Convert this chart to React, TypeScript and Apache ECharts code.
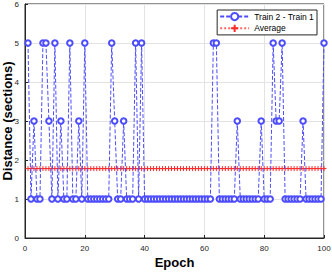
import React, { useEffect, useRef } from "react";
import * as echarts from "echarts";

const epochs = [
  1, 2, 3, 4, 5, 6, 7, 8, 9, 10, 11, 12, 13, 14, 15, 16, 17, 18, 19, 20,
  21, 22, 23, 24, 25, 26, 27, 28, 29, 30, 31, 32, 33, 34, 35, 36, 37, 38, 39, 40,
  41, 42, 43, 44, 45, 46, 47, 48, 49, 50, 51, 52, 53, 54, 55, 56, 57, 58, 59, 60,
  61, 62, 63, 64, 65, 66, 67, 68, 69, 70, 71, 72, 73, 74, 75, 76, 77, 78, 79, 80,
  81, 82, 83, 84, 85, 86, 87, 88, 89, 90, 91, 92, 93, 94, 95, 96, 97, 98, 99, 100,
];

const distance = [
  5, 1, 3, 1, 1, 5, 5, 3, 1, 5, 1, 3, 1, 1, 5, 1, 1, 3, 1, 5,
  1, 1, 1, 1, 1, 1, 1, 1, 5, 3, 1, 1, 3, 1, 1, 1, 5, 1, 5, 1,
  1, 1, 1, 1, 1, 1, 1, 1, 1, 1, 1, 1, 1, 1, 1, 1, 1, 1, 1, 1,
  1, 1, 5, 5, 1, 1, 1, 1, 1, 1, 3, 1, 1, 1, 1, 1, 1, 1, 3, 1,
  1, 1, 5, 3, 3, 5, 1, 1, 1, 1, 1, 1, 3, 1, 1, 1, 1, 1, 1, 5,
];

const averageValue = 1.78;

const xTicks = { min: 0, max: 100, interval: 20 };
const yTicks = { min: 0, max: 6, interval: 1 };

const FONT = "Liberation Sans, Arial, sans-serif";

export default function App() {
  const ref = useRef<HTMLDivElement>(null);
  useEffect(() => {
    if (!ref.current) return;
    const chart = echarts.init(ref.current, undefined, { renderer: "svg" });
    const plus = "path://M0,5 L10,5 M5,0 L5,10";
    chart.setOption({
      animation: false,
      backgroundColor: "#ffffff",
      textStyle: { fontFamily: FONT },
      grid: {
        left: 25,
        right: 8,
        top: 4,
        bottom: 34,
        containLabel: false,
        outerBoundsMode: "none",
        show: true,
        borderColor: "#262626",
        borderWidth: 1,
        backgroundColor: "transparent",
      },
      legend: {
        orient: "vertical",
        right: 15,
        top: 10,
        backgroundColor: "#ffffff",
        borderColor: "#262626",
        borderWidth: 1,
        borderRadius: 0,
        padding: [2, 3, 2, 2],
        itemGap: 2.5,
        itemWidth: 29,
        itemHeight: 9,
        textStyle: { fontSize: 8.5, color: "#000", fontFamily: FONT },
        data: ["Train 2 - Train 1", "Average"],
      },
      xAxis: {
        type: "value",
        min: xTicks.min,
        max: xTicks.max,
        interval: xTicks.interval,
        name: "Epoch",
        nameLocation: "middle",
        nameGap: 18,
        nameMoveOverlap: false,
        nameTextStyle: { fontSize: 13, fontWeight: "bold", color: "#000", fontFamily: FONT },
        axisLine: { show: true, onZero: false, lineStyle: { color: "#262626", width: 1 } },
        axisTick: { show: true, inside: true, length: 3, lineStyle: { color: "#262626" } },
        axisLabel: { fontSize: 8, color: "#262626", margin: 6, fontFamily: FONT },
        splitLine: { show: true, lineStyle: { color: "#e3e3e3", width: 1 } },
      },
      yAxis: {
        type: "value",
        min: yTicks.min,
        max: yTicks.max,
        interval: yTicks.interval,
        name: "Distance (sections)",
        nameLocation: "middle",
        nameGap: 11,
        nameMoveOverlap: false,
        nameTextStyle: { fontSize: 13, fontWeight: "bold", color: "#000", fontFamily: FONT },
        axisLine: { show: true, lineStyle: { color: "#262626", width: 1 } },
        axisTick: { show: true, inside: true, length: 3, lineStyle: { color: "#262626" } },
        axisLabel: { fontSize: 8, color: "#262626", margin: 6, fontFamily: FONT },
        splitLine: { show: true, lineStyle: { color: "#e3e3e3", width: 1 } },
      },
      series: [
        {
          name: "Average",
          type: "line",
          data: epochs.map((e) => [e, averageValue]),
          symbol: plus,
          symbolSize: 5,
          showSymbol: true,
          itemStyle: { color: "#ff2a2a", borderColor: "#ff2a2a", borderWidth: 1 },
          lineStyle: { color: "#ff6666", width: 0.6, type: "dotted" },
          z: 2,
        },
        {
          name: "Train 2 - Train 1",
          type: "line",
          data: epochs.map((e, i) => [e, distance[i]]),
          symbol: "emptyCircle",
          symbolSize: 5.5,
          showSymbol: true,
          itemStyle: { color: "#4d4dff", borderColor: "#4d4dff", borderWidth: 1 },
          lineStyle: { color: "#4d4dff", width: 1, type: [4, 2] },
          z: 3,
        },
      ],
    });
    return () => chart.dispose();
  }, []);
  return <div ref={ref} style={{ width: 332, height: 272, position: "absolute", left: 0, top: 0 }} />;
}
